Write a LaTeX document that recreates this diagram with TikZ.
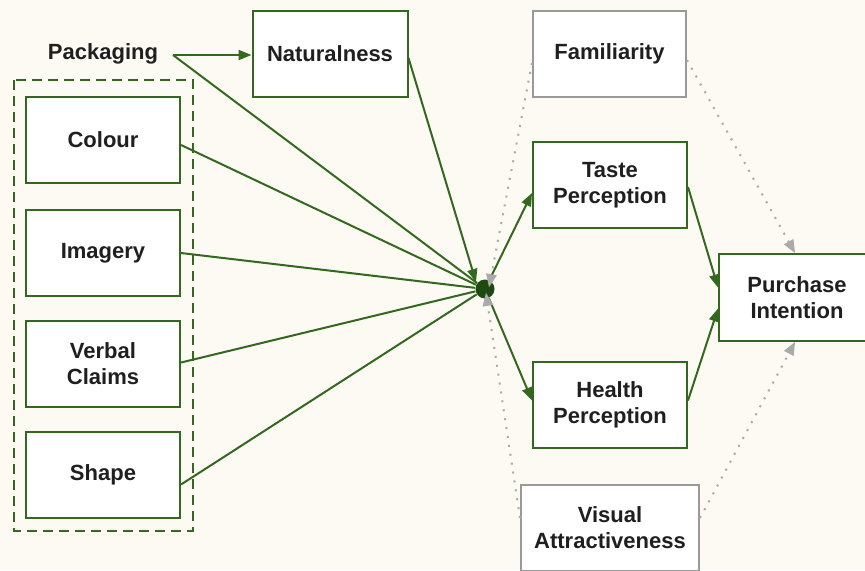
\documentclass[tikz,border=0pt]{standalone}
\usepackage{fontspec}
\setmainfont{Liberation Sans}
\usetikzlibrary{arrows.meta}
\definecolor{bgc}{HTML}{FDFAF4}
\definecolor{grn}{HTML}{33691E}
\definecolor{hubc}{HTML}{1E4A12}
\definecolor{dotc}{HTML}{AAAAAA}
\definecolor{gbord}{HTML}{999999}
\begin{document}
\begin{tikzpicture}[x=0.5pt,y=-0.5pt,
  every node/.style={font=\bfseries\fontsize{11}{13}\selectfont, text=black!88, align=center},
  gbox/.style={draw=grn, line width=1pt, fill=white, inner sep=0pt},
  graybox/.style={draw=gbord, line width=1pt, fill=white, inner sep=0pt},
  gline/.style={draw=grn, line width=1pt},
  garrow/.style={gline, -{Triangle[length=6.5pt,width=5pt]}},
  dline/.style={draw=dotc, line width=1pt, dash pattern=on 1pt off 3.5pt, -{Triangle[length=6.5pt,width=5.5pt,fill=dotc,line width=0pt]}}
]
\fill[bgc] (0,0) rectangle (865,570);
\useasboundingbox (0,0) rectangle (865,570);

% group box
\draw[grn, line width=1pt, dash pattern=on 5pt off 3pt] (14,80) rectangle (193,531);

\node (pack) at (103,54) {Packaging};
\node[gbox, minimum width=77.5pt, minimum height=43pt] (nat) at (330,54) {Naturalness};

\node[gbox, minimum width=77pt, minimum height=43pt] (col) at (103,140) {Colour};
\node[gbox, minimum width=77pt, minimum height=43pt] (img) at (103,253) {Imagery};
\node[gbox, minimum width=77pt, minimum height=43pt] (verb) at (103,363.5) {Verbal\\Claims};
\node[gbox, minimum width=77pt, minimum height=43pt] (shape) at (103,474.5) {Shape};

\node[circle, fill=hubc, inner sep=0pt, minimum size=9.5pt] (hub) at (485,289) {};

\node[graybox, minimum width=76.5pt, minimum height=43pt] (fam) at (609.5,54) {Familiarity};
\node[gbox, minimum width=77pt, minimum height=43pt] (taste) at (610,185) {Taste\\Perception};
\node[gbox, minimum width=77pt, minimum height=43pt] (health) at (610,404.5) {Health\\Perception};
\node[graybox, minimum width=89pt, minimum height=43pt] (vis) at (610,528) {Visual\\Attractiveness};
\node[gbox, minimum width=78pt, minimum height=43.5pt] (pi) at (797,297.5) {Purchase\\Intention};

% packaging connectors
\coordinate (pk) at (173,55);
\draw[garrow] (pk) -- (nat.west |- pk);
\draw[gline] (pk) -- (hub);
\draw[garrow] ([yshift=-2pt]nat.east) -- ([xshift=-1pt]hub.north west);
\draw[gline] ([yshift=-2.5pt]col.east) -- (hub);
\draw[gline] (img.east) -- (hub);
\draw[gline] ([yshift=0.5pt]verb.east) -- (hub);
\draw[gline] ([yshift=-5pt]shape.east) -- (hub);

% hub outgoing
\draw[garrow] (hub) -- ([yshift=-4pt]taste.west);
\draw[garrow] (hub) -- ([yshift=2pt]health.west);
\draw[garrow] ([yshift=-1pt]taste.east) -- ([yshift=5pt]pi.west);
\draw[garrow] ([yshift=2pt]health.east) -- ([yshift=-5.5pt]pi.west);

% moderators (dotted)
\draw[dline] ([yshift=-4.5pt]fam.west) -- ([xshift=2pt,yshift=-4pt]hub.north);
\draw[dline] ([yshift=-3pt]fam.east) -- ([xshift=-1pt]pi.north);
\draw[dline] ([yshift=5pt]vis.west) -- ([xshift=0.5pt,yshift=3pt]hub.south);
\draw[dline] ([yshift=5pt]vis.east) -- ([xshift=-1pt]pi.south);
\end{tikzpicture}
\end{document}
